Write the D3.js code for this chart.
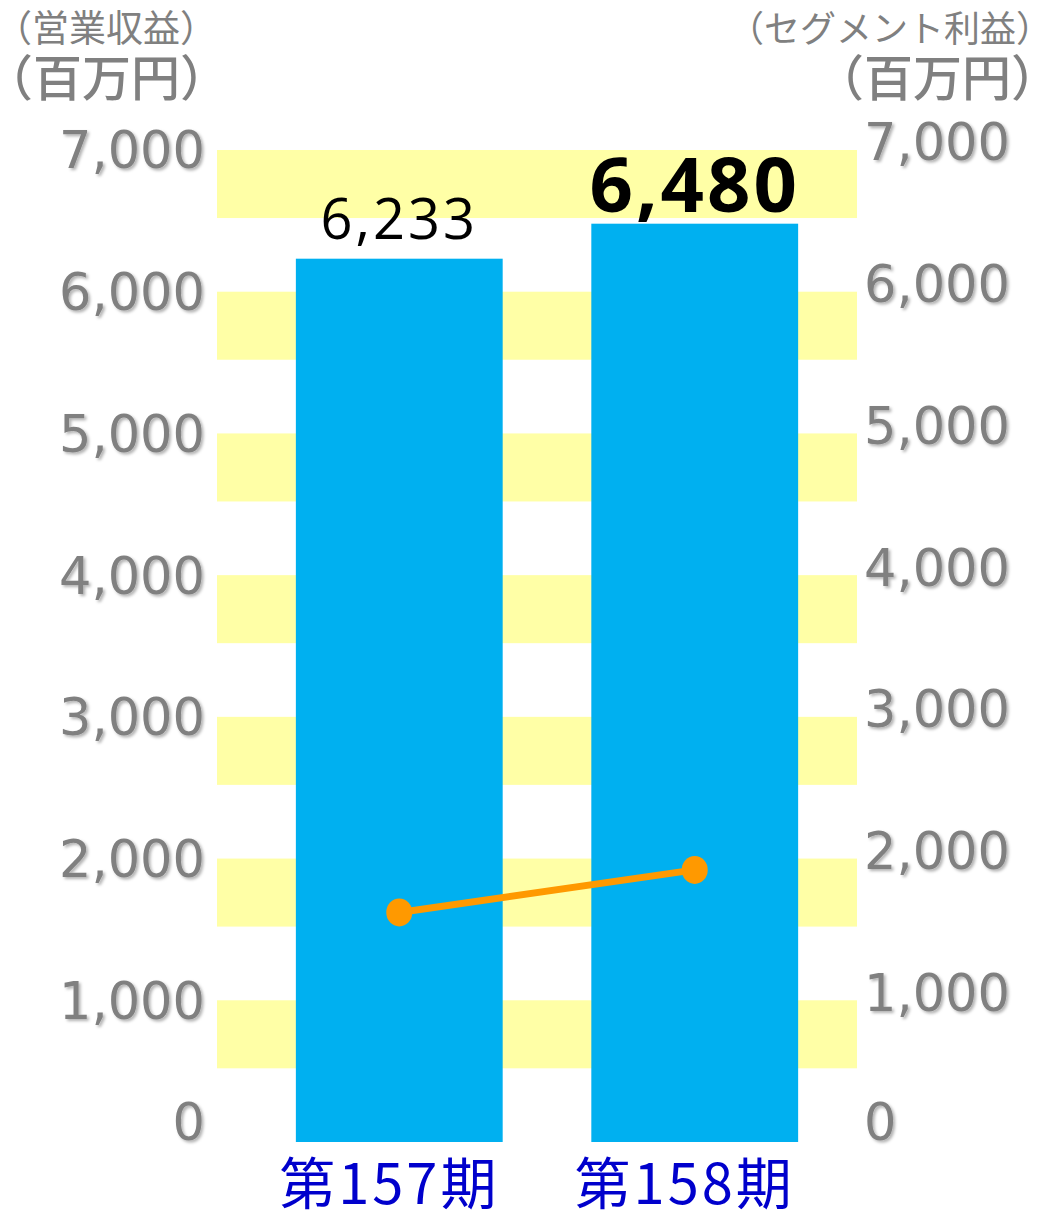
<!DOCTYPE html>
<html>
<head>
<meta charset="utf-8">
<script src="https://cdn.jsdelivr.net/npm/d3@7"></script>
<style>
  body { margin: 0; background: #fff; }
  svg { display: block; }
</style>
</head>
<body>
<div id="chart"></div>
<script>
var width = 1038,
    height = 1216;

// datos
var periodos = ["第157期", "第158期"];
var ventas = [6233, 6480];          // 営業収益 (barras)
var beneficio = [1620, 1920];       // セグメント利益 (linea)
var ticks = [0, 1000, 2000, 3000, 4000, 5000, 6000, 7000];
var bandas = [1000, 2000, 3000, 4000, 5000, 6000, 7000];

var yScale = d3.scaleLinear()
    .domain([0, 7000])
    .range([1142, 150]);

var xScale = d3.scaleBand()
    .domain(periodos)
    .range([222, 872])
    .paddingInner(0.3)
    .paddingOuter(0.25);

var fmt = d3.format(",");

var svg = d3.select("#chart")
    .append("svg")
    .attr("width", width)
    .attr("height", height);

var defs = svg.append("defs");
defs.append("filter")
    .attr("id", "sombra")
    .attr("x", "-10%").attr("y", "-10%")
    .attr("width", "130%").attr("height", "140%")
    .append("feDropShadow")
    .attr("dx", 2).attr("dy", 2)
    .attr("stdDeviation", 1.5)
    .attr("flood-color", "#000")
    .attr("flood-opacity", 0.3);

// bandas amarillas
svg.selectAll("rect.banda")
    .data(bandas)
    .enter().append("rect")
    .attr("class", "banda")
    .attr("x", 217)
    .attr("width", 640)
    .attr("y", d => yScale(d))
    .attr("height", d => yScale(d - 480) - yScale(d))
    .style("fill", "#ffffa6");

// barras
svg.selectAll("rect.barra")
    .data(ventas)
    .enter().append("rect")
    .attr("class", "barra")
    .attr("x", (d, i) => xScale(periodos[i]))
    .attr("width", xScale.bandwidth())
    .attr("y", d => yScale(d))
    .attr("height", d => yScale(0) - yScale(d))
    .style("fill", "#00b0f0");

// etiquetas de valor
svg.selectAll("text.valor")
    .data(ventas)
    .enter().append("text")
    .attr("class", "valor")
    .attr("x", (d, i) => xScale(periodos[i]) + xScale.bandwidth() / 2)
    .attr("y", (d, i) => yScale(d) - (i === 1 ? 12 : 20))
    .attr("text-anchor", "middle")
    .style("font-family", "'Open Sans', 'Noto Sans', sans-serif")
    .style("font-size", (d, i) => i === 1 ? "76px" : "56px")
    .style("letter-spacing", (d, i) => i === 1 ? "3px" : "3px")
    .style("font-weight", (d, i) => i === 1 ? "bold" : "normal")
    .style("fill", "#000")
    .text(d => fmt(d));

// linea de beneficio
var linea = d3.line()
    .x((d, i) => xScale(periodos[i]) + xScale.bandwidth() / 2)
    .y(d => yScale(d));

svg.append("path")
    .datum(beneficio)
    .attr("d", linea)
    .style("fill", "none")
    .style("stroke", "#ff9900")
    .style("stroke-width", 7);

svg.selectAll("ellipse.punto")
    .data(beneficio)
    .enter().append("ellipse")
    .attr("class", "punto")
    .attr("cx", (d, i) => xScale(periodos[i]) + xScale.bandwidth() / 2)
    .attr("cy", d => yScale(d))
    .attr("rx", 13)
    .attr("ry", 14)
    .style("fill", "#ff9900");

// ejes
var tickFont = "'DejaVu Sans', sans-serif";

svg.selectAll("text.izq")
    .data(ticks)
    .enter().append("text")
    .attr("class", "izq")
    .attr("x", 205)
    .attr("y", d => yScale(d) - (d === 0 ? 20 : 0))
    .attr("dy", "0.36em")
    .attr("text-anchor", "end")
    .attr("filter", "url(#sombra)")
    .style("font-family", tickFont)
    .style("font-size", "51px")
    .style("fill", "#808080")
    .text(d => fmt(d));

svg.selectAll("text.der")
    .data(ticks)
    .enter().append("text")
    .attr("class", "der")
    .attr("x", 864)
    .attr("y", d => yScale(d) - (d === 0 ? 20 : 8))
    .attr("dy", "0.36em")
    .attr("text-anchor", "start")
    .attr("filter", "url(#sombra)")
    .style("font-family", tickFont)
    .style("font-size", "51px")
    .style("fill", "#808080")
    .text(d => fmt(d));

// categorias
svg.selectAll("text.cat")
    .data(periodos)
    .enter().append("text")
    .attr("class", "cat")
    .attr("x", d => xScale(d) + xScale.bandwidth() / 2 - 10)
    .attr("y", 1204)
    .attr("text-anchor", "middle")
    .style("font-family", "'Noto Sans CJK JP', sans-serif")
    .style("font-size", "56px")
    .style("letter-spacing", "3px")
    .style("fill", "#0000cc")
    .text(d => d);

// titulos de unidades
var cjk = "'Noto Sans CJK JP', sans-serif";
svg.append("text")
    .attr("x", -5).attr("y", 42)
    .style("font-family", cjk).style("font-size", "37px").style("fill", "#808080")
    .text("（営業収益）");
svg.append("text")
    .attr("x", -16).attr("y", 96)
    .style("font-family", cjk).style("font-size", "49px").style("font-weight", "500").style("fill", "#808080")
    .text("（百万円）");
svg.append("text")
    .attr("x", 1052).attr("y", 42)
    .attr("text-anchor", "end")
    .style("font-family", cjk).style("font-size", "36px").style("fill", "#808080")
    .text("（セグメント利益）");
svg.append("text")
    .attr("x", 1060).attr("y", 96)
    .attr("text-anchor", "end")
    .style("font-family", cjk).style("font-size", "49px").style("font-weight", "500").style("fill", "#808080")
    .text("（百万円）");
</script>
</body>
</html>
